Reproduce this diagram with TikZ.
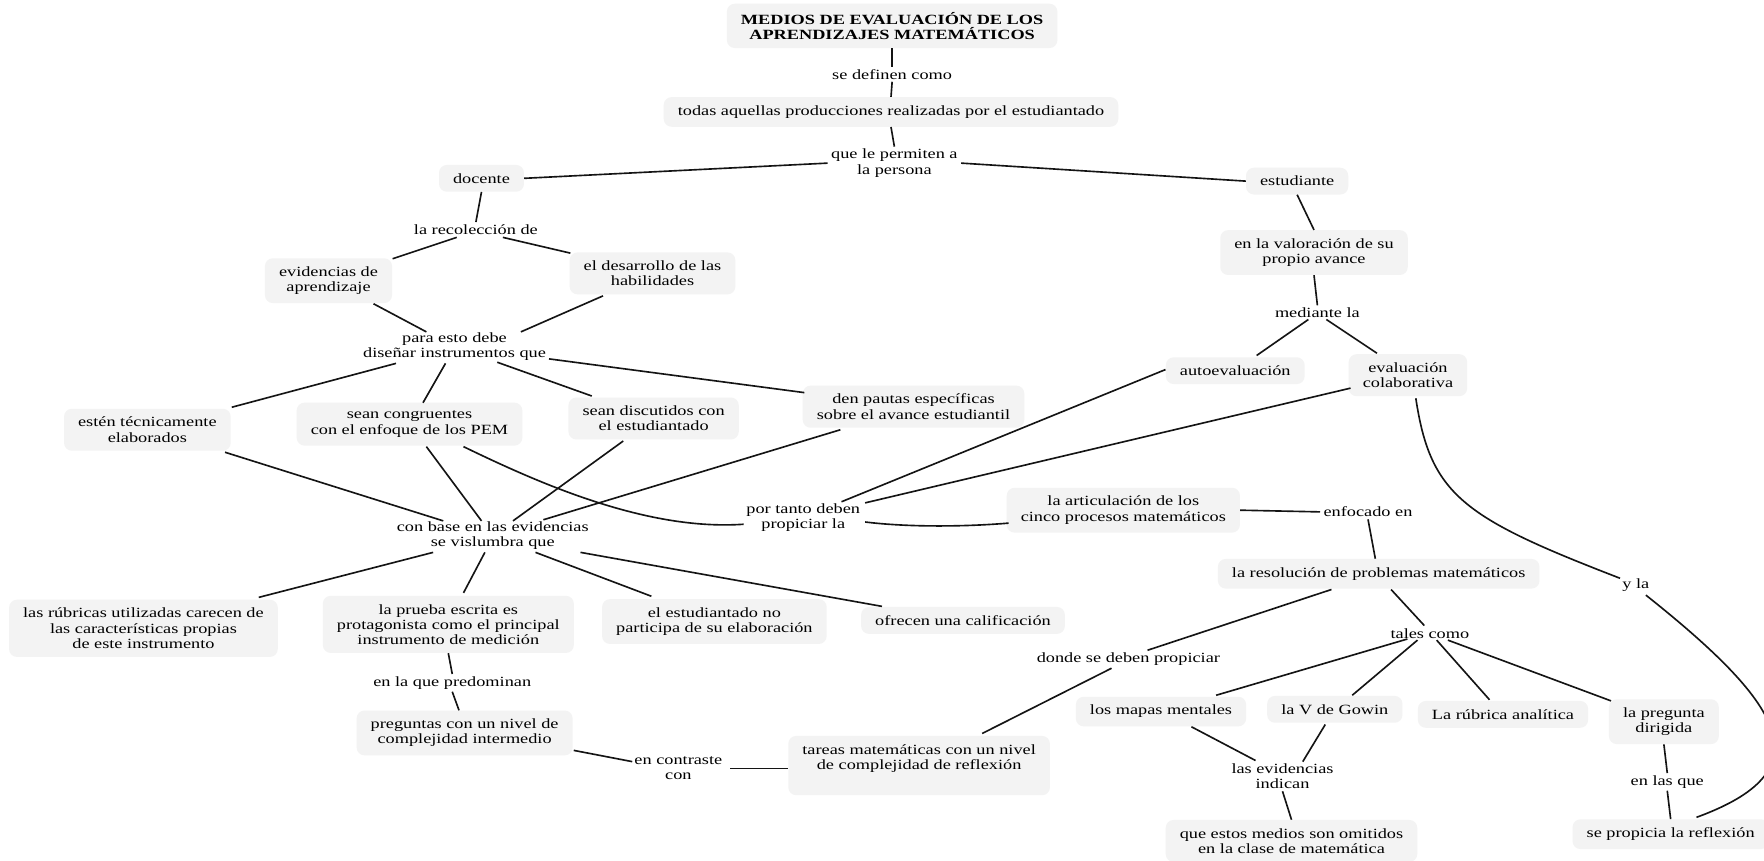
\documentclass[tikz,border=0pt]{standalone}
\usepackage{fontspec}
\setmainfont{Liberation Serif}[FakeStretch=1.3]
\definecolor{boxgray}{RGB}{243,243,243}
\definecolor{inkgray}{RGB}{20,20,20}
\begin{document}
\begin{tikzpicture}[x=1pt,y=-1pt,
  every node/.style={font=\fontsize{12.5}{13.5}\selectfont, align=center, text=black},
  concept/.style={fill=boxgray, rounded corners=7pt, inner xsep=12.5pt, inner ysep=7.5pt},
  headline/.style={concept, font=\fontsize{12.5}{13.5}\selectfont\bfseries},
  linkword/.style={inner xsep=3pt, inner ysep=2pt},
  link/.style={draw=inkgray, line width=1.45pt}]
\useasboundingbox (0,0) rectangle (1568,765);
\clip (0,0) rectangle (1568,765);
\fill[white] (0,0) rectangle (1568,765);

% ---------- concepts and linking words ----------
\node[headline] (title) at (793,23) {MEDIOS DE EVALUACIÓN DE LOS\\APRENDIZAJES MATEMÁTICOS};
\node[linkword] (def) at (793,66) {se definen como};
\node[concept] (todas) at (792,99.5) {todas aquellas producciones realizadas por el estudiantado};
\node[linkword] (perm) at (795,145) {que le permiten a\\la persona};
\node[concept] (docente) at (428,158.5) {docente};
\node[concept] (estud) at (1153,161) {estudiante};

\node[linkword] (recol) at (423,204) {la recolección de};
\node[concept] (evid) at (292,249.5) {evidencias de\\aprendizaje};
\node[concept] (desar) at (580,243) {el desarrollo de las\\habilidades};
\node[linkword] (para) at (404,308) {para esto debe\\diseñar instrumentos que};
\node[concept] (esten) at (131,382) {estén técnicamente\\elaborados};
\node[concept] (congr) at (364,377) {sean congruentes\\con el enfoque de los PEM};
\node[concept] (discut) at (581,372) {sean discutidos con\\el estudiantado};
\node[concept] (pautas) at (812,361.5) {den pautas específicas\\sobre el avance estudiantil};
\node[linkword] (base) at (438,476) {con base en las evidencias\\se vislumbra que};
\node[concept] (rubricas) at (127.5,558.5) {las rúbricas utilizadas carecen de\\las características propias\\de este instrumento};
\node[concept] (prueba) at (398.5,555) {la prueba escrita es\\protagonista como el principal\\instrumento de medición};
\node[concept] (estno) at (635,552.5) {el estudiantado no\\participa de su elaboración};
\node[concept] (calif) at (856,551.5) {ofrecen una calificación};
\node[linkword] (predom) at (402,607) {en la que predominan};
\node[concept] (preg) at (413,651.5) {preguntas con un nivel de\\complejidad intermedio};
\node[linkword] (contr) at (603,683) {en contraste\\con};
\node[concept] (tareas) at (817,680.5) {tareas matemáticas con un nivel\\de complejidad de reflexión\\[2pt]\mbox{}};
\node[linkword] (portanto) at (714,460) {por tanto deben\\propiciar la};

\node[concept] (valor) at (1168,224.5) {en la valoración de su\\propio avance};
\node[linkword] (mediante) at (1171,278) {mediante la};
\node[concept] (auto) at (1098,329.5) {autoevaluación};
\node[concept] (colab) at (1251.5,333.5) {evaluación\\colaborativa};
\node[concept] (artic) at (998.5,453.5) {la articulación de los\\cinco procesos matemáticos};
\node[linkword] (enfoc) at (1216,455) {enfocado en};
\node[concept] (resol) at (1225.5,510) {la resolución de problemas matemáticos};
\node[linkword] (donde) at (1003,586) {donde se deben propiciar};
\node[linkword] (tales) at (1271,563) {tales como};
\node[concept] (mapas) at (1032,632.5) {los mapas mentales};
\node[concept] (gowin) at (1186.5,630.5) {la V de Gowin};
\node[concept] (rub2) at (1336,635) {La rúbrica analítica};
\node[concept] (pregdir) at (1479,641.5) {la pregunta\\dirigida};
\node[linkword] (evid2) at (1140,690) {las evidencias\\indican};
\node[concept] (omit) at (1148,747.5) {que estos medios son omitidos\\en la clase de matemática};
\node[linkword] (enlasque) at (1482,695) {en las que};
\node[concept] (propicia) at (1485,741.5) {se propicia la reflexión};
\node[linkword] (yla) at (1454,520) {y la};

% ---------- connectors ----------
\draw[link] (title.south) -- (def.north);
\draw[link] (def.south) -- (todas.north);
\draw[link] (todas.south) -- (perm.north);
\draw[link] (perm.west) -- (docente.east);
\draw[link] (perm.east) -- (estud.west);
\draw[link] (docente.south) -- (recol.north);
\draw[link] ([shift={(-17,7)}]recol.center) -- ([shift={(57,-19.5)}]evid.center);
\draw[link] ([shift={(24,7)}]recol.center) -- ([shift={(-73,-18)}]desar.center);
\draw[link] ([shift={(40,20.5)}]evid.center) -- ([shift={(-25,-13)}]para.center);
\draw[link] ([shift={(-44,20)}]desar.center) -- ([shift={(59,-13)}]para.center);
\draw[link] ([shift={(84,11)}]para.center) -- ([shift={(-97,-12.5)}]pautas.center);
\draw[link] ([shift={(38,14)}]para.center) -- ([shift={(-55,-20)}]discut.center);
\draw[link] ([shift={(-52,15)}]para.center) -- ([shift={(75,-20)}]esten.center);
\draw[link] ([shift={(-8,15)}]para.center) -- ([shift={(12,-19)}]congr.center);

\draw[link] ([shift={(69,20)}]esten.center) -- ([shift={(-44,-13)}]base.center);
\draw[link] ([shift={(15,20)}]congr.center) -- ([shift={(-10,-13)}]base.center);
\draw[link] ([shift={(-27,20)}]discut.center) -- ([shift={(18,-13)}]base.center);
\draw[link] ([shift={(-65,20.5)}]pautas.center) -- ([shift={(45,-14)}]base.center);
\draw[link] ([shift={(48,20)}]congr.center) .. controls +(68,33) and +(-86,6) .. ([shift={(-53,6)}]portanto.center);

\draw[link] ([shift={(-53,15)}]base.center) -- ([shift={(102.5,-27.5)}]rubricas.center);
\draw[link] ([shift={(-7,15)}]base.center) -- ([shift={(13.5,-28)}]prueba.center);
\draw[link] ([shift={(38,15)}]base.center) -- ([shift={(-56,-22.5)}]estno.center);
\draw[link] ([shift={(78,15)}]base.center) -- ([shift={(-72,-12.5)}]calif.center);
\draw[link] (prueba.south) -- (predom.north);
\draw[link] (predom.south) -- ([xshift=-5pt]preg.north);
\draw[link] ([shift={(97,15.5)}]preg.center) -- ([shift={(-41,-6)}]contr.center);
\draw[link] ([shift={(46,0)}]contr.center) -- ([shift={(-117,2.5)}]tareas.center);

\draw[link] (estud.south) -- (valor.north);
\draw[link] (valor.south) -- (mediante.north);
\draw[link] ([shift={(-8,6)}]mediante.center) -- ([shift={(19,-13.5)}]auto.center);
\draw[link] ([shift={(8,6)}]mediante.center) -- ([shift={(-27.5,-19.5)}]colab.center);
\draw[link] ([shift={(-62,-1)}]auto.center) -- ([shift={(34,-14)}]portanto.center);
\draw[link] ([shift={(-51,11.5)}]colab.center) -- ([shift={(55,-13)}]portanto.center);
\draw[link] ([shift={(55,4)}]portanto.center) .. controls +(41,5) and +(-36,3) .. ([shift={(-102,11.5)}]artic.center);
\draw[link] (artic.east) -- (enfoc.west);
\draw[link] (enfoc.south) -- ([xshift=-3pt]resol.north);
\draw[link] ([shift={(-42,14)}]resol.center) -- ([shift={(17,-8)}]donde.center);
\draw[link] ([shift={(11,14)}]resol.center) -- ([shift={(-5,-7)}]tales.center);
\draw[link] ([shift={(-15,8)}]donde.center) -- ([shift={(56,-28.5)}]tareas.center);
\draw[link] ([shift={(-20,5)}]tales.center) -- ([shift={(49,-14.5)}]mapas.center);
\draw[link] ([shift={(-11,6)}]tales.center) -- ([shift={(15.5,-12.5)}]gowin.center);
\draw[link] ([shift={(6,6)}]tales.center) -- ([shift={(-12,-13)}]rub2.center);
\draw[link] ([shift={(16,6)}]tales.center) -- ([shift={(-47,-18.5)}]pregdir.center);
\draw[link] ([shift={(27,13.5)}]mapas.center) -- ([shift={(-24,-14)}]evid2.center);
\draw[link] ([shift={(-8.5,13.5)}]gowin.center) -- ([shift={(18,-13)}]evid2.center);
\draw[link] (evid2.south) -- (omit.north);
\draw[link] (pregdir.south) -- (enlasque.north);
\draw[link] (enlasque.south) -- (propicia.north);
\draw[link] ([shift={(7,20.5)}]colab.center) .. controls +(13,86) and +(-140,-54) .. ([shift={(-14,-6)}]yla.center);
\draw[link] ([shift={(9,9)}]yla.center) .. controls +(127,101) and +(112,-41) .. ([shift={(23,-15)}]propicia.center);
\end{tikzpicture}
\end{document}
